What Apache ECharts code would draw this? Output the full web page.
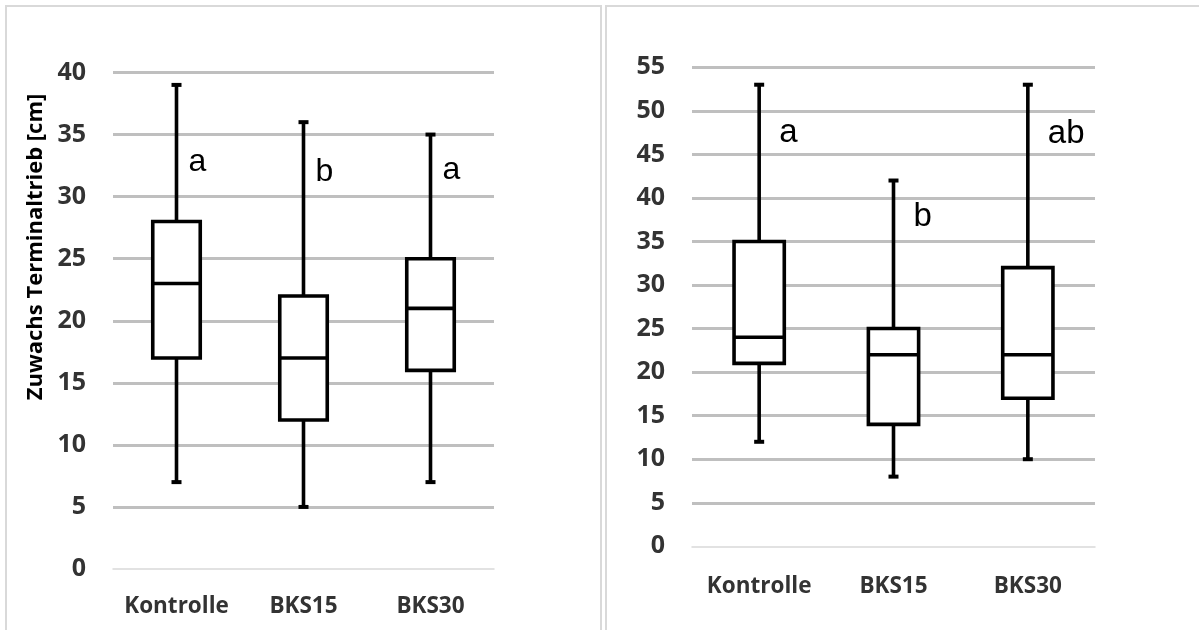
<!DOCTYPE html>
<html>
<head>
<meta charset="utf-8">
<script src="https://cdn.jsdelivr.net/npm/echarts@6/dist/echarts.min.js"></script>
<style>
html,body{margin:0;padding:0;background:#fff;}
#chart{width:1199px;height:630px;}
</style>
</head>
<body>
<div id="chart"></div>
<script>
// Categories
const categories = ['Kontrolle', 'BKS15', 'BKS30'];
// Left chart: [min, Q1, median, Q3, max]
const leftBox = [
  [7, 17, 23, 28, 39],
  [5, 12, 17, 22, 36],
  [7, 16, 21, 25, 35]
];
// Right chart: [min, Q1, median, Q3, max]
const rightBox = [
  [12, 21, 24, 35, 53],
  [8, 14, 22, 25, 42],
  [10, 17, 22, 32, 53]
];
// Significance letters and the value at which they sit
const leftLetters = ['a', 'b', 'a'];
const leftLetterY = [32.8, 32.0, 32.1];
const rightLetters = ['a', 'b', 'ab'];
const rightLetterY = [47.5, 37.8, 47.3];
// Axis settings
const leftYMax = 40;
const rightYMax = 55;
const yInterval = 5;
const yTitle = 'Zuwachs Terminaltrieb [cm]';

const labelColor = '#333333';
const labelFont = '"Open Sans"';

function boxRender(params, api) {
  const i = api.value(0);
  const lo = api.coord([i, api.value(1)]);
  const q1 = api.coord([i, api.value(2)]);
  const md = api.coord([i, api.value(3)]);
  const q3 = api.coord([i, api.value(4)]);
  const hi = api.coord([i, api.value(5)]);
  const band = api.size([1, 0])[0];
  const hw = band * 0.187;
  const cap = 5;
  const x = lo[0];
  const ls = { stroke: '#000', lineWidth: 3.6 };
  return {
    type: 'group',
    children: [
      { type: 'line', shape: { x1: x, y1: q3[1], x2: x, y2: hi[1] }, style: ls },
      { type: 'line', shape: { x1: x, y1: q1[1], x2: x, y2: lo[1] }, style: ls },
      { type: 'line', shape: { x1: x - cap, y1: hi[1], x2: x + cap, y2: hi[1] }, style: { stroke: '#000', lineWidth: 4 } },
      { type: 'line', shape: { x1: x - cap, y1: lo[1], x2: x + cap, y2: lo[1] }, style: { stroke: '#000', lineWidth: 4 } },
      { type: 'rect', shape: { x: x - hw, y: q3[1], width: hw * 2, height: q1[1] - q3[1] }, style: { fill: '#fff', stroke: '#000', lineWidth: 3.6 } },
      { type: 'line', shape: { x1: x - hw, y1: md[1], x2: x + hw, y2: md[1] }, style: ls }
    ]
  };
}

function letterRender(letters, dx, size) {
  return function (params, api) {
    const p = api.coord([api.value(0), api.value(1)]);
    return {
      type: 'text',
      x: p[0] + dx,
      y: p[1],
      style: {
        text: letters[params.dataIndex],
        fill: '#000',
        font: 'normal ' + size + 'px "Liberation Sans", Arial, sans-serif',
        align: 'left',
        verticalAlign: 'middle'
      }
    };
  };
}

function xAxisCfg(gridIndex, margin) {
  return {
    type: 'category', gridIndex: gridIndex, data: categories,
    axisLine: { show: true, lineStyle: { color: '#d9d9d9', width: 1.5 } },
    axisTick: { show: false },
    axisLabel: { interval: 0, color: labelColor, fontFamily: labelFont, fontWeight: 'bold', fontSize: 22.5, margin: margin },
    splitLine: { show: false }
  };
}
function yAxisCfg(gridIndex, max) {
  return {
    type: 'value', gridIndex: gridIndex, min: 0, max: max, interval: yInterval,
    axisLine: { show: false }, axisTick: { show: false },
    axisLabel: { color: labelColor, fontFamily: labelFont, fontWeight: 'bold', fontSize: 25, margin: 27 },
    splitLine: { show: true, showMinLine: false, lineStyle: { color: '#bfbfbf', width: 3 } }
  };
}

const chart = echarts.init(document.getElementById('chart'), null, { renderer: 'canvas' });
chart.setOption({
  backgroundColor: '#fff',
  animation: false,
  graphic: [
    { type: 'rect', shape: { x: 6, y: 6, width: 595, height: 640 }, style: { fill: 'none', stroke: '#d9d9d9', lineWidth: 2 }, z: -10 },
    { type: 'rect', shape: { x: 606, y: 6, width: 620, height: 640 }, style: { fill: 'none', stroke: '#d9d9d9', lineWidth: 2 }, z: -10 },
    { type: 'text', x: 36, y: 247, rotation: Math.PI / 2,
      style: { text: yTitle, fill: '#000', font: 'bold 22px "Open Sans", sans-serif', align: 'center', verticalAlign: 'middle' } }
  ],
  grid: [
    { left: 113, right: 705, top: 72.5, bottom: 61 },
    { left: 692, right: 104, top: 67.3, bottom: 83.7 }
  ],
  xAxis: [xAxisCfg(0, 26), xAxisCfg(1, 29)],
  yAxis: [yAxisCfg(0, leftYMax), yAxisCfg(1, rightYMax)],
  series: [
    { type: 'custom', xAxisIndex: 0, yAxisIndex: 0, clip: false, renderItem: boxRender,
      encode: { x: 0, y: [1, 2, 3, 4, 5] },
      data: leftBox.map((b, i) => [i].concat(b)) },
    { type: 'custom', xAxisIndex: 1, yAxisIndex: 1, clip: false, renderItem: boxRender,
      encode: { x: 0, y: [1, 2, 3, 4, 5] },
      data: rightBox.map((b, i) => [i].concat(b)) },
    { type: 'custom', xAxisIndex: 0, yAxisIndex: 0, clip: false, z: 5,
      renderItem: letterRender(leftLetters, 12, 32),
      encode: { x: 0, y: 1 },
      data: leftLetterY.map((v, i) => [i, v]) },
    { type: 'custom', xAxisIndex: 1, yAxisIndex: 1, clip: false, z: 5,
      renderItem: letterRender(rightLetters, 20, 33),
      encode: { x: 0, y: 1 },
      data: rightLetterY.map((v, i) => [i, v]) }
  ]
});
</script>
</body>
</html>
